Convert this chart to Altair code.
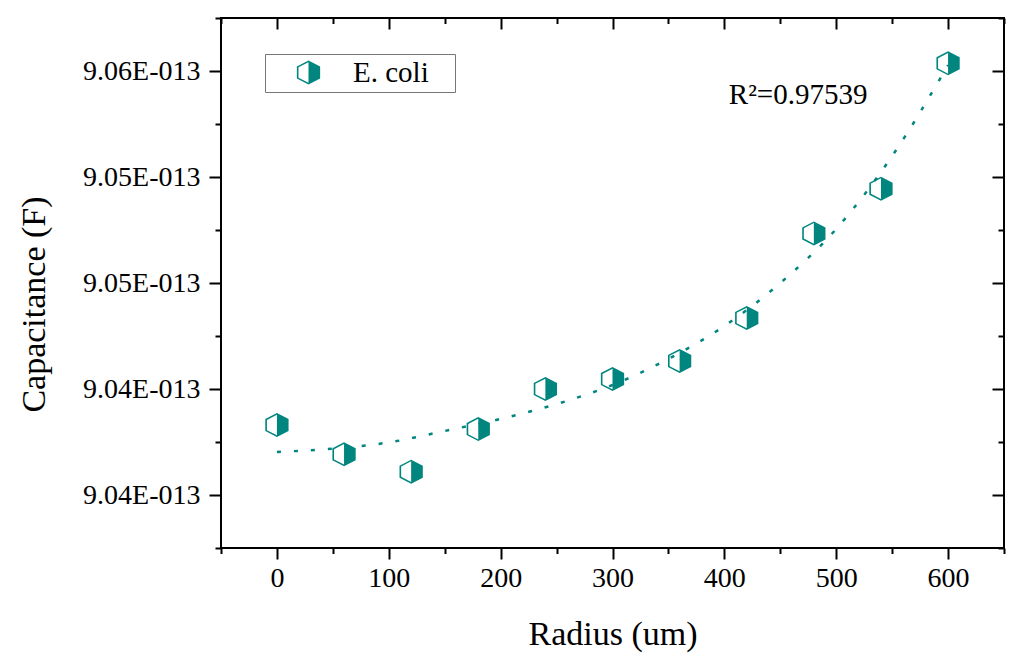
import altair as alt
import pandas as pd

# measured points (capacitance in units of 1e-13 F)
radius = [0, 60, 120, 180, 240, 300, 360, 420, 480, 540, 600]
capacitance = [9.04130, 9.03992, 9.03910, 9.04111, 9.04300, 9.04347,
               9.04432, 9.04635, 9.05034, 9.05245, 9.05836]
series = ["E. coli"] * len(radius)

# fitted curve
fit_radius = [0, 50, 100, 150, 200, 250, 300, 350, 400, 450, 500, 550, 600]
fit_capacitance = [9.04003, 9.04019, 9.04048, 9.04102, 9.04159, 9.04229,
                   9.04319, 9.04442, 9.04597, 9.04800, 9.05055, 9.05399, 9.05828]

r2_label = ["R\u00b2=0.97539"]
r2_radius = [404]
r2_capacitance = [9.05643]

x_major = [0, 100, 200, 300, 400, 500, 600]
x_minor = [-50, 50, 150, 250, 350, 450, 550, 650]
y_major = [9.038, 9.043, 9.048, 9.053, 9.058]
y_minor = [9.0355, 9.0405, 9.0455, 9.0505, 9.0555, 9.0605]

TEAL = "#00857f"
FONT = "Liberation Serif"
W, H = 783, 530

# half-filled hexagon: right half solid, left half as a thin ring
HEX = ("M0,-1L0.97,-0.5L0.97,0.5L0,1Z "
       "M0,-1L0,1L-0.97,0.5L-0.97,-0.5Z "
       "M0,-0.86L-0.834,-0.43L-0.834,0.43L0,0.86Z")

pts = pd.DataFrame({"radius": radius, "cap": capacitance, "series": series})
fit = pd.DataFrame({"radius": fit_radius, "cap": fit_capacitance})
ann = pd.DataFrame({"radius": r2_radius, "cap": r2_capacitance, "label": r2_label})

xs = alt.Scale(domain=[-50, 650], nice=False, zero=False)
ys = alt.Scale(domain=[9.0355, 9.0605], nice=False, zero=False)


def tick_axis(orient, values, size, offset=0):
    return alt.Axis(
        orient=orient, values=values, tickSize=size, tickWidth=2,
        tickColor="black", domain=False, grid=False, labels=False,
        title=None, offset=offset,
    )


line = alt.Chart(fit).mark_line(
    color=TEAL, strokeWidth=2.5, strokeDash=[4, 13], interpolate="monotone"
).encode(
    x=alt.X("radius:Q", scale=xs, axis=None),
    y=alt.Y("cap:Q", scale=ys, axis=None),
)

points = alt.Chart(pts).mark_point(
    shape=HEX, filled=True, size=576, opacity=1, strokeWidth=0
).encode(
    x=alt.X("radius:Q", scale=xs, axis=alt.Axis(
        orient="bottom", values=x_major, tickSize=11, tickWidth=2,
        tickColor="black", domain=False, grid=False,
        labelFont=FONT, labelFontSize=28, labelColor="black",
        labelPadding=5, labelOverlap=False,
        title="Radius (um)", titleFont=FONT, titleFontSize=34,
        titleFontWeight="normal", titleColor="black",
        titleX=W / 2, titleY=96, titleBaseline="alphabetic", titleAlign="center",
    )),
    y=alt.Y("cap:Q", scale=ys, axis=alt.Axis(
        orient="left", values=y_major, tickSize=12, tickWidth=2,
        tickColor="black", domain=False, grid=False,
        labelFont=FONT, labelFontSize=28, labelColor="black",
        labelPadding=9, labelOverlap=False,
        labelExpr="format(datum.value, '.2f') + 'E-013'",
        title="Capacitance (F)", titleFont=FONT, titleFontSize=34,
        titleFontWeight="normal", titleColor="black",
        titleX=-177, titleY=286, titleBaseline="alphabetic", titleAlign="center",
    )),
    color=alt.Color("series:N", scale=alt.Scale(range=[TEAL]), legend=alt.Legend(
        title=None, orient="none", legendX=44, legendY=36,
        symbolType=HEX, symbolSize=576, symbolStrokeWidth=0,
        symbolOffset=25, labelOffset=30, padding=4,
        labelFont=FONT, labelFontSize=29, labelColor="black",
        labelExpr="datum.label + '\u00a0\u00a0\u00a0\u200d'",
        strokeColor="#777777", fillColor="white",
    )),
)


def ghost(xaxis, yaxis):
    return alt.Chart(pts).mark_point(opacity=0).encode(
        x=alt.X("radius:Q", scale=xs, axis=xaxis),
        y=alt.Y("cap:Q", scale=ys, axis=yaxis),
    )


minor = ghost(tick_axis("bottom", x_minor, 5.5), tick_axis("left", y_minor, 6))
top_right = ghost(tick_axis("bottom", x_major, 11, -H), tick_axis("left", y_major, 12, -W))
top_right_minor = ghost(tick_axis("bottom", x_minor, 5.5, -H), tick_axis("left", y_minor, 6, -W))

text = alt.Chart(ann).mark_text(
    align="left", baseline="alphabetic", font=FONT, fontSize=29, color="black"
).encode(
    x=alt.X("radius:Q", scale=xs, axis=None),
    y=alt.Y("cap:Q", scale=ys, axis=None),
    text="label:N",
)

chart = alt.layer(line, points, minor, top_right, top_right_minor, text).resolve_axis(
    x="independent", y="independent"
).properties(
    width=W, height=H,
    autosize="none",
    padding={"left": 213, "top": 10, "right": 8, "bottom": 110},
).configure_view(
    stroke="black", strokeWidth=2
)

chart.save("out.html", embed_options={"renderer": "svg", "actions": False})
